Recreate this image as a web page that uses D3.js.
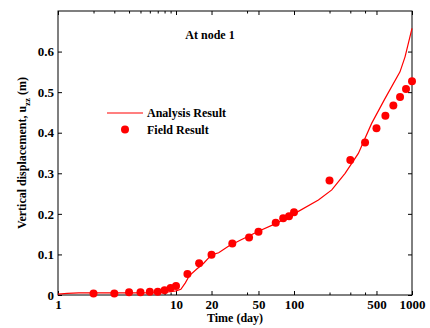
<!DOCTYPE html>
<html>
<head>
<meta charset="utf-8">
<script src="https://cdn.jsdelivr.net/npm/d3@7"></script>
<style>
  body { margin: 0; background: #fff; }
  svg text { font-family: "Liberation Serif", "Times New Roman", serif; font-weight: bold; fill: #000; }
  .axis path { display: none; }
  .axis line { stroke: #000; }
</style>
</head>
<body>
<div id="chart"></div>
<script>
// analysis result (curve)
const analysisDays = [1, 1.2, 1.5, 2, 3, 5, 7, 9, 10, 11, 12, 13, 15, 17, 19, 20, 23, 28, 35, 50, 70, 100, 161, 209, 271, 351, 455, 590, 791, 873, 1000]
const analysisDisp = [0.002, 0.004, 0.005, 0.005, 0.005, 0.005, 0.006, 0.008, 0.010, 0.014, 0.030, 0.048, 0.064, 0.077, 0.092, 0.099, 0.104, 0.121, 0.135, 0.157, 0.176, 0.200, 0.234, 0.259, 0.300, 0.349, 0.423, 0.484, 0.550, 0.587, 0.657]
// field result (dots)
const fieldDays = [2, 3, 4, 5, 6, 7, 8, 9, 10, 12.5, 15.7, 20, 30, 41.6, 50, 70, 81, 90.7, 100, 200, 300, 400, 500, 595, 695, 792, 890, 1000]
const fieldDisp = [0.004, 0.004, 0.007, 0.007, 0.008, 0.008, 0.012, 0.017, 0.022, 0.052, 0.078, 0.099, 0.127, 0.142, 0.156, 0.178, 0.189, 0.194, 0.204, 0.282, 0.333, 0.376, 0.411, 0.442, 0.467, 0.488, 0.508, 0.527]

const xMajor = [1, 10, 20, 50, 100, 500, 1000]
const xMinor = [2, 3, 4, 5, 6, 7, 8, 9, 40, 200, 300, 400]
const yTicks = [0, 0.1, 0.2, 0.3, 0.4, 0.5, 0.6]

const margin = { top: 11, right: 18, bottom: 33, left: 58 }
const W = 430, H = 328
const width = W - margin.left - margin.right
const height = H - margin.top - margin.bottom

const svg = d3.select('#chart').append('svg')
    .attr('width', W)
    .attr('height', H)
const g = svg.append('g')
    .attr('transform', `translate(${margin.left}, ${margin.top})`)

const xScale = d3.scaleLog().domain([1, 1000]).range([0, width])
const yScale = d3.scaleLinear().domain([0, 0.7]).range([height, 0])

// ticks, all pointing inward
g.append('g').attr('class', 'axis')
    .attr('transform', `translate(0, ${height})`)
    .call(d3.axisBottom(xScale).tickValues(xMajor).tickSizeInner(-4).tickSizeOuter(0).tickPadding(5).tickFormat(d3.format('d')))
    .selectAll('text').style('font-size', '13px')
g.append('g').attr('class', 'axis')
    .attr('transform', `translate(0, ${height})`)
    .call(d3.axisBottom(xScale).tickValues(xMinor).tickSizeInner(-2.5).tickSizeOuter(0).tickFormat(''))
g.append('g').attr('class', 'axis')
    .call(d3.axisTop(xScale).tickValues(xMajor).tickSizeInner(-4).tickSizeOuter(0).tickFormat(''))
g.append('g').attr('class', 'axis')
    .call(d3.axisTop(xScale).tickValues(xMinor).tickSizeInner(-2.5).tickSizeOuter(0).tickFormat(''))
g.append('g').attr('class', 'axis')
    .call(d3.axisLeft(yScale).tickValues(yTicks).tickSizeInner(-4).tickSizeOuter(0).tickPadding(4)
        .tickFormat(d => d === 0 ? '0' : d3.format('.1f')(d)))
    .selectAll('text').style('font-size', '13px')
g.append('g').attr('class', 'axis')
    .attr('transform', `translate(${width}, 0)`)
    .call(d3.axisRight(yScale).tickValues(yTicks).tickSizeInner(-4).tickSizeOuter(0).tickFormat(''))

g.append('rect')
    .attr('width', width)
    .attr('height', height)
    .attr('fill', 'none')
    .attr('stroke', '#000')
    .attr('stroke-width', 1)

const line = d3.line()
    .x((d, i) => xScale(analysisDays[i]))
    .y(d => yScale(d))

g.append('path')
    .datum(analysisDisp)
    .attr('d', line)
    .attr('fill', 'none')
    .attr('stroke', '#ff0000')
    .attr('stroke-width', 1.2)

g.append('g')
    .selectAll('circle')
    .data(fieldDisp)
    .join('circle')
    .attr('cx', (d, i) => xScale(fieldDays[i]))
    .attr('cy', d => yScale(d))
    .attr('r', 4)
    .attr('fill', '#ff0000')

// annotation + legend
g.append('text')
    .attr('x', 152)
    .attr('y', 28)
    .attr('text-anchor', 'middle')
    .style('font-size', '12px')
    .text('At node 1')

const legend = g.append('g').attr('transform', 'translate(49, 102)')
legend.append('line')
    .attr('x1', 0).attr('x2', 36)
    .attr('stroke', '#ff0000').attr('stroke-width', 1.2)
legend.append('text')
    .attr('x', 40).attr('y', 4)
    .style('font-size', '12px')
    .text('Analysis Result')
legend.append('circle')
    .attr('cx', 18).attr('cy', 16.5).attr('r', 4)
    .attr('fill', '#ff0000')
legend.append('text')
    .attr('x', 40).attr('y', 21)
    .style('font-size', '12px')
    .text('Field Result')

// axis titles
svg.append('text')
    .attr('x', margin.left + width / 2)
    .attr('y', 322)
    .attr('text-anchor', 'middle')
    .style('font-size', '12px')
    .text('Time (day)')

const yTitle = svg.append('text')
    .attr('transform', `translate(26, ${margin.top + height / 2}) rotate(-90)`)
    .attr('text-anchor', 'middle')
    .style('font-size', '12px')
yTitle.append('tspan').text('Vertical displacement, u')
yTitle.append('tspan').attr('dy', 4).style('font-size', '9px').text('zz')
yTitle.append('tspan').attr('dy', -4).text(' (m)')
</script>
</body>
</html>
